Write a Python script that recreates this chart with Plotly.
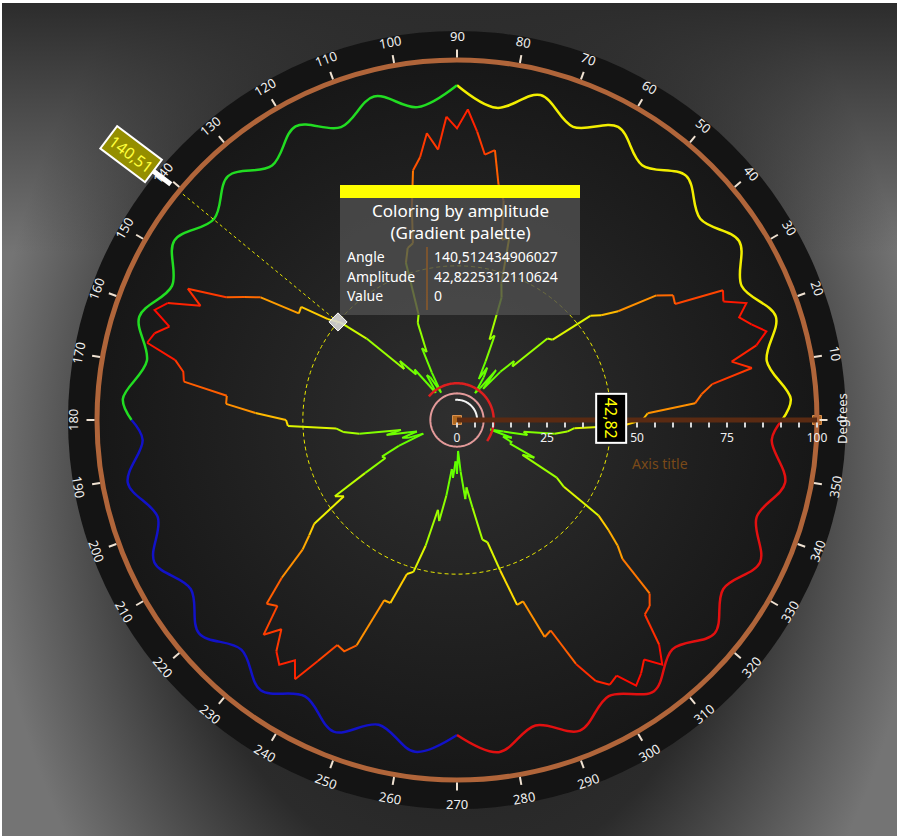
import base64
import numpy as np
import plotly.graph_objects as go

W, H = 899, 839
CX, CY = 457, 420          # chart centre, pixels from top-left
R_IN, R_OUT = 360, 389     # radius of the r=100 ring and of the dark outer disk (px)

# ---------------- data ----------------
star_theta = list(range(0, 360, 2))
star_r = [
    51.5, 53.0, 66.3, 68.3, 71.6, 83.2, 78.0, 85.7, 89.4, 86.0,
    83.4, 86.7, 81.0, 82.2, 68.6, 69.3, 65.3, 54.0, 49.5, 47.0,
    34.7, 33.8, 21.4, 22.8, 18.0, 11.3, 17.6, 11.0, 9.0, 14.0,
    16.8, 12.9, 18.2, 25.7, 24.1, 36.2, 39.9, 52.7, 51.6, 62.3,
    66.4, 75.7, 74.1, 80.3, 86.3, 81.0, 84.3, 75.3, 80.1, 73.7,
    70.4, 60.3, 50.6, 49.7, 45.9, 31.2, 29.1, 20.7, 22.2, 14.9,
    8.8, 14.0, 15.0, 11.0, 9.6, 18.3, 17.0, 22.8, 20.4, 33.8,
    42.0, 45.5, 53.5, 53.0, 64.3, 68.3, 72.6, 83.2, 78.0, 86.7,
    89.4, 84.0, 87.4, 88.7, 80.0, 77.2, 76.6, 64.3, 64.3, 56.0,
    47.5, 47.0, 33.7, 31.8, 27.4, 15.8, 20.0, 14.3, 11.6, 16.0,
    14.5, 10.1, 17.7, 23.2, 22.5, 29.5, 40.0, 37.9, 49.0, 52.1,
    56.0, 65.5, 73.5, 71.8, 80.3, 75.9, 81.5, 84.0, 80.5, 84.9,
    77.3, 70.8, 71.5, 68.5, 54.0, 54.1, 45.0, 43.9, 36.0, 25.5,
    28.5, 21.2, 13.7, 16.1, 11.5, 15.0, 8.6, 14.3, 22.1, 18.9,
    24.6, 34.0, 35.0, 43.4, 54.0, 53.6, 65.0, 64.0, 75.4, 82.1,
    84.9, 83.7, 89.0, 87.0, 84.4, 88.7, 83.9, 75.1, 74.4, 72.0,
    60.0, 56.6, 52.0, 47.4, 35.0, 32.0, 20.6, 23.9, 16.1, 16.3,
    13.6, 16.0, 9.6, 13.3, 20.0, 18.8, 27.4, 30.8, 32.7, 46.0,
]

ring_theta = [0, 3.6, 10.8, 18.0, 25.2, 32.4, 39.6, 46.8, 54.0, 61.2, 68.4, 75.6, 82.8,
              90.0, 97.2, 104.4, 111.6, 118.8, 126.0, 133.2, 140.4, 147.6, 154.8, 162.0,
              169.2, 176.4, 180.0, 183.6, 190.8, 198.0, 205.2, 212.4, 219.6, 226.8, 234.0,
              241.2, 248.4, 255.6, 262.8, 270.0, 277.2, 284.4, 291.6, 298.8, 306.0, 313.2,
              320.4, 327.6, 334.8, 342.0, 349.2, 356.4, 360.0]
ring_r = [90.3, 92.9, 87.6, 93.1, 87.4, 92.8, 87.7, 93.0, 87.5, 92.9, 87.6, 93.2, 87.4,
          93.0, 87.6, 92.8, 87.5, 93.1, 87.4, 92.9, 87.6, 93.0, 87.5, 92.8,
          87.7, 93.0, 90.4, 87.5, 93.1, 87.4, 92.9, 87.6, 93.0, 87.5, 92.8,
          87.6, 93.1, 87.4, 92.9, 87.5, 93.0, 87.6, 92.8, 87.5, 93.1, 87.4,
          92.9, 87.6, 93.0, 87.5, 92.8, 87.6, 90.3]
ring_quadrants = [(0, 90, "#f2ee00"), (90, 180, "#22dd22"), (180, 270, "#1212c8"), (270, 360, "#e21010")]

radial_ticks = list(range(0, 101, 5))
radial_labels = [str(v) if v % 25 == 0 else "" for v in radial_ticks]
grid_values = [25, 50, 75]
angle_ticks = list(range(0, 360, 10))

cursor_angle = 140.512434906027
cursor_amp = 42.8225312110624
cursor_value = 0

amp_stops = [0, 20, 35, 45, 55, 65, 75, 90]
amp_colors = ["#33ff00", "#77ff00", "#bbff00", "#ffee00", "#ffaa00", "#ff7700", "#ff4400", "#ff0000"]


def hex2rgb(h):
    h = h.lstrip("#")
    return [int(h[i:i + 2], 16) for i in (0, 2, 4)]


def amp_color(v):
    v = max(amp_stops[0], min(amp_stops[-1], v))
    for i in range(len(amp_stops) - 1):
        a, b = amp_stops[i], amp_stops[i + 1]
        if a <= v <= b:
            t = (v - a) / (b - a)
            c0, c1 = hex2rgb(amp_colors[i]), hex2rgb(amp_colors[i + 1])
            c = [round(c0[k] + (c1[k] - c0[k]) * t) for k in range(3)]
            return f"rgb({c[0]},{c[1]},{c[2]})"
    return amp_colors[-1]


def px(x):
    return x / W


def py(y):
    return 1 - y / H


def polar_px(theta_deg, rad_px):
    t = np.deg2rad(theta_deg)
    return CX + rad_px * np.cos(t), CY - rad_px * np.sin(t)


# ---------------- background (svg) ----------------
svg = f"""<svg xmlns='http://www.w3.org/2000/svg' width='{W}' height='{H}' viewBox='0 0 {W} {H}'>
<defs>
<radialGradient id='bg' gradientUnits='userSpaceOnUse' cx='{CX}' cy='470' r='470'
 gradientTransform='translate({CX} 470) scale(1 1.4) translate(-{CX} -470)'>
<stop offset='0' stop-color='#1c1c1c'/>
<stop offset='0.62' stop-color='#2b2b2b'/>
<stop offset='1' stop-color='#747474'/>
</radialGradient>
<linearGradient id='topg' x1='0' y1='0' x2='0' y2='1'>
<stop offset='0' stop-color='#2c2c2c' stop-opacity='1'/>
<stop offset='0.3' stop-color='#2c2c2c' stop-opacity='0'/>
</linearGradient>
<radialGradient id='disk' gradientUnits='userSpaceOnUse' cx='{CX}' cy='{CY}' r='{R_IN}'>
<stop offset='0' stop-color='#2f2f2f'/>
<stop offset='1' stop-color='#171717'/>
</radialGradient>
</defs>
<rect width='{W}' height='{H}' fill='#ffffff'/>
<rect x='2' y='3' width='{W - 4}' height='{H - 6}' fill='url(#bg)'/>
<rect x='2' y='3' width='{W - 4}' height='{H - 6}' fill='url(#topg)'/>
<circle cx='{CX}' cy='{CY}' r='{R_OUT}' fill='#141414'/>
<circle cx='{CX}' cy='{CY}' r='{R_IN}' fill='url(#disk)'/>
</svg>"""
svg_uri = "data:image/svg+xml;base64," + base64.b64encode(svg.encode()).decode()

fig = go.Figure()

# ---------------- outer wavy ring ----------------
for a0, a1, col in ring_quadrants:
    idx = [i for i, t in enumerate(ring_theta) if a0 <= t <= a1]
    fig.add_trace(go.Scatterpolar(
        r=[ring_r[i] for i in idx], theta=[ring_theta[i] for i in idx],
        mode="lines", line=dict(color=col, width=2.5, shape="spline", smoothing=1.0),
        subplot="polar2", hoverinfo="skip", showlegend=False))

# dashed cursor circle
circ_t = np.linspace(0, 360, 241)
fig.add_trace(go.Scatterpolar(
    r=[cursor_amp] * len(circ_t), theta=circ_t, mode="lines",
    line=dict(color="#e8e800", width=1, dash="4px,3px"),
    subplot="polar2", hoverinfo="skip", showlegend=False))

# ---------------- star, gradient coloured by amplitude ----------------
closed_t = star_theta + [360]
closed_r = star_r + [star_r[0]]
segs = []
for i in range(len(closed_t) - 1):
    m = (closed_r[i] + closed_r[i + 1]) / 2
    q = round(m / 2.5) * 2.5
    if segs and segs[-1][0] == q:
        segs[-1][1].append(i + 1)
    else:
        segs.append([q, [i, i + 1]])
for q, idx in segs:
    fig.add_trace(go.Scatterpolar(
        r=[closed_r[k] for k in idx], theta=[closed_t[k] for k in idx],
        mode="lines", line=dict(color=amp_color(q), width=2),
        subplot="polar2", hoverinfo="skip", showlegend=False))

# ---------------- centre decorations ----------------
t_full = np.linspace(0, 360, 121)
fig.add_trace(go.Scatterpolar(r=[7.4] * len(t_full), theta=t_full, mode="lines",
                              line=dict(color="#e39a9a", width=2),
                              subplot="polar2", hoverinfo="skip", showlegend=False))
t_red = np.linspace(140, -35, 80)
fig.add_trace(go.Scatterpolar(r=[10.2] * len(t_red), theta=t_red, mode="lines",
                              line=dict(color="#dd1f1f", width=2.5),
                              subplot="polar2", hoverinfo="skip", showlegend=False))
t_white = np.linspace(95, 5, 50)
fig.add_trace(go.Scatterpolar(r=[5.6] * len(t_white), theta=t_white, mode="lines",
                              line=dict(color="#f4f4f4", width=2),
                              subplot="polar2", hoverinfo="skip", showlegend=False))

# cursor dashed line and diamond
fig.add_trace(go.Scatterpolar(r=[cursor_amp, 103], theta=[cursor_angle, cursor_angle], mode="lines",
                              line=dict(color="#e8e800", width=1, dash="3px,3px"), cliponaxis=False,
                              subplot="polar2", hoverinfo="skip", showlegend=False))
fig.add_trace(go.Scatterpolar(r=[cursor_amp], theta=[cursor_angle], mode="markers",
                              marker=dict(symbol="diamond", size=14, color="rgba(215,215,215,0.9)",
                                          line=dict(color="#ffffff", width=1)),
                              subplot="polar2", hoverinfo="skip", showlegend=False))
# axis handles
fig.add_trace(go.Scatterpolar(r=[0, 100], theta=[0, 0], mode="markers",
                              marker=dict(symbol="square", size=9, color="#b0681e",
                                          line=dict(color="#d89050", width=1)),
                              cliponaxis=False, subplot="polar2", hoverinfo="skip", showlegend=False))

# ---------------- annotations ----------------
FONT = "Noto Sans, Open Sans, sans-serif"
ann = []


def note(x, y, text, **kw):
    d = dict(x=px(x), y=py(y), xref="paper", yref="paper", text=text, showarrow=False,
             xanchor="center", yanchor="middle")
    d.update(kw)
    ann.append(d)


for t in angle_ticks:
    if 0 < t <= 180:
        ang = 90 - t
    else:
        ang = 270 - (t if t > 0 else 360)
    x, y = polar_px(t, 384)
    note(x, y, str(t), textangle=ang, font=dict(color="#f0f0f0", size=13, family=FONT))
# angular axis title
note(842, 419, "Degrees", textangle=-90, font=dict(color="#f0f0f0", size=13, family=FONT))
# radial axis title
note(660, 463, "Axis title", font=dict(color="#7a4a18", size=14, family=FONT))
# radial cursor value label
vx, vy = polar_px(0, cursor_amp * R_IN / 100)
note(vx, vy - 2, "42,82", textangle=90, bgcolor="#000000", bordercolor="#ffffff", borderwidth=2,
     borderpad=3, font=dict(color="#ffff00", size=16, family=FONT))
# angular cursor label
ax_, ay_ = polar_px(cursor_angle, 103 * R_IN / 100)
ann.append(dict(x=px(ax_), y=py(ay_), xref="paper", yref="paper", text="140,51", showarrow=True,
                ax=-40, ay=-30, arrowhead=0, arrowwidth=5, arrowcolor="#ffffff", standoff=0,
                textangle=37, bgcolor="#948e00", bordercolor="#ffffff", borderwidth=2, borderpad=2,
                font=dict(color="#ffff3a", size=16, family=FONT)))
# tooltip
note(460, 221, "Coloring by amplitude<br>(Gradient palette)", align="center",
     font=dict(color="#ffffff", size=17, family=FONT))
rows = [("Angle", "140,512434906027", 256), ("Amplitude", "42,8225312110624", 276),
        ("Value", str(cursor_value), 295)]
for lab, val, yy in rows:
    note(345, yy, lab, xanchor="left", font=dict(color="#ffffff", size=14, family=FONT))
    note(432, yy, val, xanchor="left", font=dict(color="#ffffff", size=14, family=FONT))

shapes = [
    dict(type="rect", xref="paper", yref="paper", x0=px(340), x1=px(580), y0=py(315), y1=py(185),
         fillcolor="rgba(78,78,78,0.82)", line=dict(width=0), layer="above"),
    dict(type="rect", xref="paper", yref="paper", x0=px(340), x1=px(580), y0=py(198), y1=py(185),
         fillcolor="#ffff00", line=dict(width=0), layer="above"),
    dict(type="line", xref="paper", yref="paper", x0=px(427), x1=px(427), y0=py(247), y1=py(310),
         line=dict(color="#8c5a28", width=1.5), layer="above"),
]

fig.update_layout(
    width=W, height=H, autosize=False,
    margin=dict(l=0, r=0, t=0, b=0, pad=0),
    paper_bgcolor="#ffffff", plot_bgcolor="rgba(0,0,0,0)",
    showlegend=False,
    images=[dict(source=svg_uri, xref="paper", yref="paper", x=0, y=1, sizex=1, sizey=1,
                 xanchor="left", yanchor="top", sizing="stretch", layer="below")],
    polar=dict(
        domain=dict(x=[px(CX - R_OUT), px(CX + R_OUT)], y=[(H - CY - R_OUT) / H, (H - CY + R_OUT) / H]),
        bgcolor="rgba(0,0,0,0)",
        radialaxis=dict(range=[0, 100 * R_OUT / R_IN], tickvals=grid_values, showticklabels=False,
                        ticks="", showline=False, showgrid=True, gridcolor="#4d4d4d", gridwidth=1,
                        griddash="dash"),
        angularaxis=dict(showline=False, showgrid=False, ticks="", showticklabels=False),
    ),
    polar2=dict(
        domain=dict(x=[px(CX - R_IN), px(CX + R_IN)], y=[(H - CY - R_IN) / H, (H - CY + R_IN) / H]),
        bgcolor="rgba(0,0,0,0)",
        radialaxis=dict(range=[0, 100], angle=0, side="clockwise", tickvals=radial_ticks,
                        ticktext=radial_labels, ticks="outside", ticklen=5, tickwidth=1.5,
                        tickcolor="#d8d8d8", showline=True, linecolor="#5a2a12", linewidth=5,
                        showgrid=False, tickfont=dict(color="#f0f0f0", size=12, family=FONT),
                        tickangle=0),
        angularaxis=dict(rotation=0, direction="counterclockwise", showline=True,
                         linecolor="#b0653a", linewidth=5, ticks="outside", ticklen=8,
                         tickwidth=2, tickcolor="#f0e2d2", tickvals=angle_ticks,
                         showticklabels=False, showgrid=False),
    ),
    annotations=ann,
    shapes=shapes,
)

fig.write_html("out.html", config={"displayModeBar": False},
               post_script="document.body.style.margin='0px';")
